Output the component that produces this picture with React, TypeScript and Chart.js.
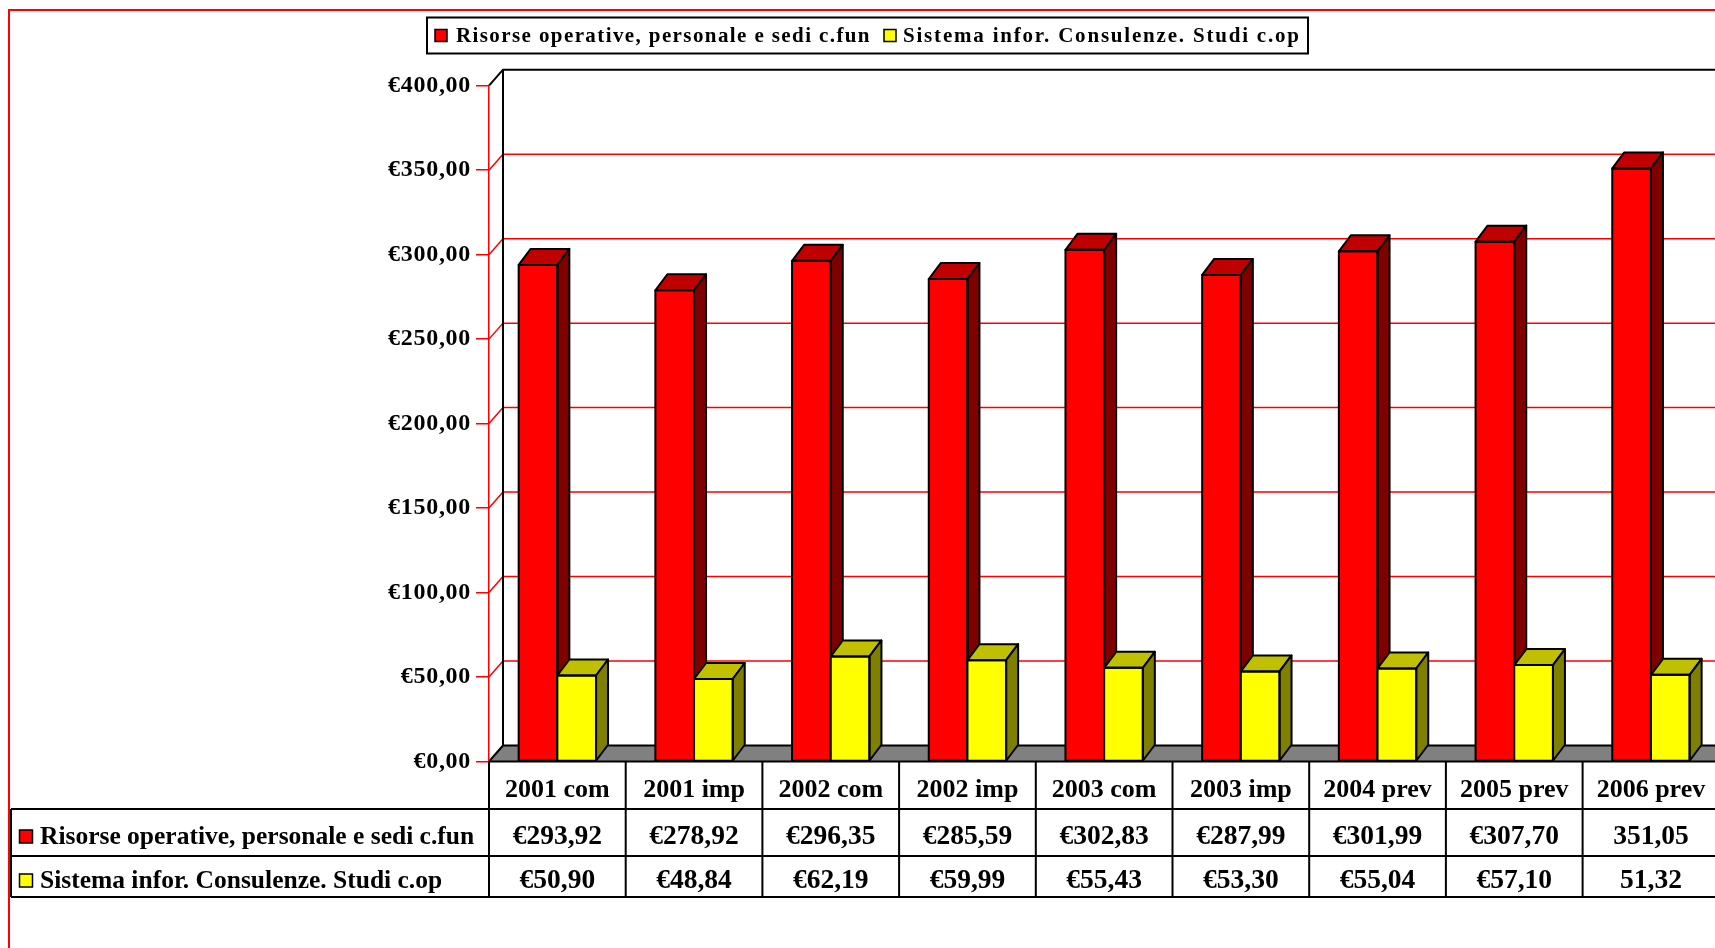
import React, { useEffect, useRef } from 'react';
import { Chart, registerables } from 'chart.js';

Chart.register(...registerables);

// ---------- data ----------
const CATEGORIES = ['2001 com', '2001 imp', '2002 com', '2002 imp', '2003 com', '2003 imp', '2004 prev', '2005 prev', '2006 prev'];
const SERIES_NAMES = ['Risorse operative, personale e sedi c.fun', 'Sistema infor. Consulenze. Studi c.op'];
const RISORSE = [293.92, 278.92, 296.35, 285.59, 302.83, 287.99, 301.99, 307.7, 351.05];
const SISTEMA = [50.9, 48.84, 62.19, 59.99, 55.43, 53.3, 55.04, 57.1, 51.32];
const EURO_IN_TABLE = [true, true, true, true, true, true, true, true, false];
const Y_MIN = 0;
const Y_MAX = 400;
const Y_STEP = 50;

// ---------- layout / style ----------
const CANVAS_W = 1760;
const CANVAS_H = 948;
const AREA_LEFT = 489;
const AREA_TOP = 85.7;
const AREA_BOTTOM = 761.5;
const COL_W = 136.7;
const AREA_RIGHT = AREA_LEFT + COL_W * CATEGORIES.length;
const WALL_DX = 14;
const WALL_DY = -16;
const BAR_DX = 12;
const BAR_DY = -16;
const FONT = "'Liberation Serif', 'Times New Roman', serif";
const FRONT = ['#FF0000', '#FFFF00'];
const TOPS = ['#C00000', '#C0C000'];
const SIDES = ['#800000', '#808000'];

const fmt = (v: number, euro: boolean) => (euro ? '€' : '') + v.toFixed(2).replace('.', ',');

const excelPlugin = {
  id: 'excel3d',
  beforeDraw(chart: any) {
    const { ctx, chartArea: a } = chart;
    const ys = chart.scales.y;
    ctx.save();
    ctx.letterSpacing = '0px';
    ctx.fillStyle = '#FFFFFF';
    ctx.fillRect(0, 0, chart.width, chart.height);
    // outer border
    ctx.strokeStyle = '#FF0000';
    ctx.lineWidth = 2;
    ctx.strokeRect(9, 10, chart.width + 100, chart.height + 100);

    const farRight = a.right + WALL_DX + 60;
    // floor
    ctx.beginPath();
    ctx.moveTo(a.left, a.bottom);
    ctx.lineTo(farRight, a.bottom);
    ctx.lineTo(farRight, a.bottom + WALL_DY);
    ctx.lineTo(a.left + WALL_DX, a.bottom + WALL_DY);
    ctx.closePath();
    ctx.fillStyle = '#808080';
    ctx.fill();

    // gridlines on back wall and left wall
    ys.ticks.forEach((t: any) => {
      const v = t.value;
      const py = ys.getPixelForValue(v);
      if (v <= Y_MIN) return;
      const isTop = v >= Y_MAX;
      ctx.strokeStyle = isTop ? '#000000' : '#FF0000';
      ctx.lineWidth = isTop ? 2 : 1.5;
      ctx.beginPath();
      ctx.moveTo(a.left, py);
      ctx.lineTo(a.left + WALL_DX, py + WALL_DY);
      ctx.lineTo(farRight, py + WALL_DY);
      ctx.stroke();
    });

    // back wall left edge + floor edges
    ctx.strokeStyle = '#000000';
    ctx.lineWidth = 2;
    ctx.beginPath();
    ctx.moveTo(a.left + WALL_DX, a.top + WALL_DY);
    ctx.lineTo(a.left + WALL_DX, a.bottom + WALL_DY);
    ctx.lineTo(farRight, a.bottom + WALL_DY);
    ctx.moveTo(a.left, a.bottom);
    ctx.lineTo(a.left + WALL_DX, a.bottom + WALL_DY);
    ctx.stroke();
    ctx.restore();
  },
  beforeDatasetDraw() {
    return false;
  },
  afterDatasetsDraw(chart: any) {
    const ctx = chart.ctx;
    for (let di = 0; di < chart.data.datasets.length; di++) {
      const meta = chart.getDatasetMeta(di);
      meta.data.forEach((el: any) => {
        el.draw(ctx);
        const { x, y, base, width } = el.getProps(['x', 'y', 'base', 'width'], true);
        const l = x - width / 2;
        const r = x + width / 2;
        ctx.save();
        ctx.lineWidth = 2;
        ctx.strokeStyle = '#000000';
        ctx.lineJoin = 'round';
        ctx.beginPath();
        ctx.moveTo(l, y);
        ctx.lineTo(r, y);
        ctx.lineTo(r + BAR_DX, y + BAR_DY);
        ctx.lineTo(l + BAR_DX, y + BAR_DY);
        ctx.closePath();
        ctx.fillStyle = TOPS[di];
        ctx.fill();
        ctx.stroke();
        ctx.beginPath();
        ctx.moveTo(r, y);
        ctx.lineTo(r + BAR_DX, y + BAR_DY);
        ctx.lineTo(r + BAR_DX, base + BAR_DY);
        ctx.lineTo(r, base);
        ctx.closePath();
        ctx.fillStyle = SIDES[di];
        ctx.fill();
        ctx.stroke();
        // front outline
        ctx.strokeRect(l, y, width, base - y);
        ctx.restore();
      });
    }
    ctx.letterSpacing = '0.7px';
  },
  afterDraw(chart: any) {
    const { ctx, chartArea: a } = chart;
    const xs = chart.scales.x;
    ctx.save();
    ctx.letterSpacing = '0px';
    const n = CATEGORIES.length;
    const colW = (a.right - a.left) / n;
    const tableLeft = 11;
    const r1 = 809;
    const r2 = 856;
    const r3 = 897;
    const farRight = chart.width + 10;

    ctx.strokeStyle = '#000000';
    ctx.lineWidth = 2;
    ctx.beginPath();
    ctx.moveTo(a.left, a.bottom);
    ctx.lineTo(farRight, a.bottom);
    [r1, r2, r3].forEach((yy) => {
      ctx.moveTo(tableLeft, yy);
      ctx.lineTo(farRight, yy);
    });
    ctx.moveTo(tableLeft, r1);
    ctx.lineTo(tableLeft, r3);
    for (let i = 0; i <= n; i++) {
      const xx = a.left + i * colW;
      ctx.moveTo(xx, a.bottom);
      ctx.lineTo(xx, r3);
    }
    ctx.stroke();

    // row headers
    const rows = [
      { y0: r1, y1: r2, vals: RISORSE, di: 0 },
      { y0: r2, y1: r3, vals: SISTEMA, di: 1 },
    ];
    rows.forEach((row) => {
      const cy = (row.y0 + row.y1) / 2 + 4.5;
      ctx.fillStyle = FRONT[row.di];
      ctx.fillRect(19.5, cy - 7, 13, 13);
      ctx.lineWidth = 1.5;
      ctx.strokeRect(19.5, cy - 7, 13, 13);
      ctx.fillStyle = '#000000';
      ctx.font = `bold 25.5px ${FONT}`;
      ctx.textAlign = 'left';
      ctx.textBaseline = 'middle';
      ctx.fillText(SERIES_NAMES[row.di], 40, cy);
      ctx.font = `bold 27.5px ${FONT}`;
      ctx.textAlign = 'center';
      row.vals.forEach((v, i) => {
        ctx.fillText(fmt(v, EURO_IN_TABLE[i]), xs.getPixelForValue(i), cy);
      });
    });

    // legend
    const lx = 427;
    const ly = 17.5;
    const lw = 881;
    const lh = 36;
    ctx.fillStyle = '#FFFFFF';
    ctx.fillRect(lx, ly, lw, lh);
    ctx.strokeStyle = '#000000';
    ctx.lineWidth = 2;
    ctx.strokeRect(lx, ly, lw, lh);
    const items = [
      { mx: 435, tx: 456, sp: '1.4px' },
      { mx: 884, tx: 903, sp: '1.8px' },
    ];
    ctx.font = `bold 21px ${FONT}`;
    ctx.textAlign = 'left';
    ctx.textBaseline = 'middle';
    items.forEach((it, di) => {
      const cy = ly + lh / 2;
      ctx.letterSpacing = '0px';
      ctx.fillStyle = FRONT[di];
      ctx.fillRect(it.mx, cy - 6, 12, 12);
      ctx.lineWidth = 1.5;
      ctx.strokeRect(it.mx, cy - 6, 12, 12);
      ctx.fillStyle = '#000000';
      ctx.letterSpacing = it.sp;
      ctx.fillText(SERIES_NAMES[di], it.tx, cy + 1);
    });
    ctx.letterSpacing = '0px';
    ctx.restore();
  },
};

export default function App() {
  const ref = useRef<HTMLCanvasElement>(null);
  useEffect(() => {
    const canvas = ref.current;
    if (!canvas) return;
    const chart = new Chart(canvas, {
      type: 'bar',
      data: {
        labels: CATEGORIES,
        datasets: [
          {
            label: SERIES_NAMES[0],
            data: RISORSE,
            backgroundColor: FRONT[0],
            borderColor: '#000000',
            borderWidth: 0,
            categoryPercentage: 0.566,
            barPercentage: 1,
          },
          {
            label: SERIES_NAMES[1],
            data: SISTEMA,
            backgroundColor: FRONT[1],
            borderColor: '#000000',
            borderWidth: 0,
            categoryPercentage: 0.566,
            barPercentage: 1,
          },
        ],
      },
      options: {
        responsive: false,
        animation: false,
        devicePixelRatio: 1,
        layout: {
          padding: { left: 0, top: AREA_TOP, right: CANVAS_W - AREA_RIGHT, bottom: 0 },
        },
        plugins: {
          legend: { display: false },
          tooltip: { enabled: false },
          title: { display: false },
        },
        scales: {
          x: {
            offset: true,
            grid: { display: false },
            border: { display: false },
            ticks: {
              autoSkip: false,
              maxRotation: 0,
              minRotation: 0,
              padding: 5,
              color: '#000000',
              font: { family: FONT, size: 26, weight: 'bold' },
            },
            afterFit: (scale: any) => {
              scale.height = CANVAS_H - AREA_BOTTOM;
            },
          },
          y: {
            min: Y_MIN,
            max: Y_MAX,
            grid: {
              display: true,
              drawOnChartArea: false,
              drawTicks: true,
              tickLength: 13,
              color: '#FF0000',
              lineWidth: 1.5,
            },
            border: { display: true, color: '#FF0000', width: 1.5 },
            ticks: {
              stepSize: Y_STEP,
              padding: 5,
              z: 1,
              color: '#000000',
              font: { family: FONT, size: 24, weight: 'bold' },
              callback: (v: any) => fmt(Number(v), true),
            },
            afterFit: (scale: any) => {
              scale.width = AREA_LEFT;
            },
          },
        },
      },
      plugins: [excelPlugin],
    });
    return () => chart.destroy();
  }, []);

  return (
    <div
      style={{
        position: 'fixed',
        left: 0,
        top: 0,
        width: 1715,
        height: 948,
        overflow: 'hidden',
        background: '#FFFFFF',
      }}
    >
      <canvas
        ref={ref}
        width={CANVAS_W}
        height={CANVAS_H}
        style={{ display: 'block', width: CANVAS_W, height: CANVAS_H }}
      />
    </div>
  );
}
